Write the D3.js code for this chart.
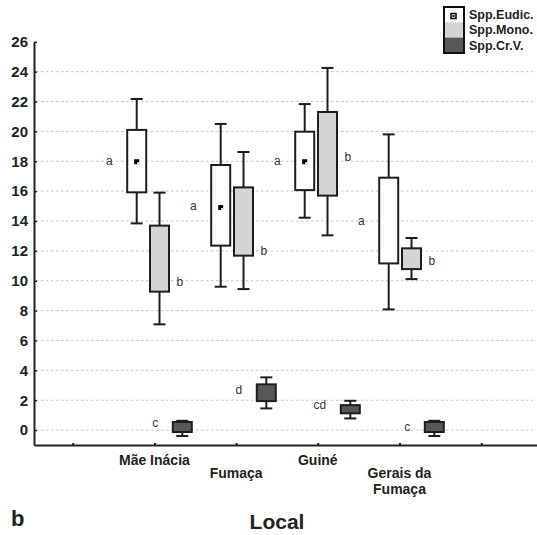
<!DOCTYPE html>
<html>
<head>
<meta charset="utf-8">
<script src="https://cdn.jsdelivr.net/npm/d3@7"></script>
<style>
  body { margin: 0; background: #fff; }
  svg { font-family: "Liberation Sans", Arial, sans-serif; }
</style>
</head>
<body>
<svg width="537" height="535"></svg>
<script>
  // data
  const locais = ['Mãe Inácia', 'Fumaça', 'Guiné', 'Gerais da Fumaça'];
  const series = ['Spp.Eudic.', 'Spp.Mono.', 'Spp.Cr.V.'];
  const fills = ['#ffffff', '#d4d4d4', '#575757'];

  const wMax = [[22.17, 20.5, 21.83, 19.8], [15.9, 18.62, 24.25, 12.86], [0.62, 3.53, 1.96, 0.62]];
  const q3   = [[20.1, 17.75, 19.98, 16.9], [13.69, 16.25, 21.3, 12.17], [0.54, 3.06, 1.67, 0.54]];
  const med  = [[17.97, 14.9, 17.97, null], [null, null, null, null], [null, null, null, null]];
  const q1   = [[15.92, 12.35, 16.07, 11.16], [9.27, 11.68, 15.7, 10.78], [-0.13, 1.94, 1.12, -0.13]];
  const wMin = [[13.84, 9.6, 14.22, 8.08], [7.08, 9.44, 13.04, 10.11], [-0.4, 1.45, 0.78, -0.4]];

  const letras = [['a', 'a', 'a', 'a'], ['b', 'b', 'b', 'b'], ['c', 'd', 'cd', 'c']];
  const letraY = [[18.0, 15.0, 18.0, 14.0], [9.93, 12.0, 18.3, 11.3], [0.47, 2.68, 1.67, 0.22]];

  const yTicks = d3.range(0, 27, 2);
  const gridTicks = d3.range(0, 25, 2);

  const svg = d3.select('svg');

  const y = d3.scaleLinear().domain([-1, 26]).range([445, 41.8]);
  const x = d3.scaleLinear().domain([-0.474, 5.683]).range([34, 537]);
  // box groups are spaced a little wider than the axis ticks in the original
  const xb = d3.scaleLinear().domain([0, 3]).range([136.7, 388.7]);
  const serieOffset = 22.8;
  const boxW = 19, capW = 12;

  // grid
  svg.append('g').selectAll('line').data(gridTicks).enter().append('line')
    .attr('x1', 36).attr('x2', 533)
    .attr('y1', d => y(d)).attr('y2', d => y(d))
    .attr('stroke', '#c4c4c4').attr('stroke-width', 1)
    .attr('stroke-dasharray', '2.5,2.5');

  // y axis
  const yAxisG = svg.append('g')
    .attr('transform', 'translate(34,0)')
    .call(d3.axisLeft(y).tickValues(yTicks).tickSize(-3).tickSizeOuter(0).tickPadding(6));
  yAxisG.select('.domain').attr('stroke', '#222').attr('stroke-width', 2);
  yAxisG.selectAll('.tick line').attr('stroke', '#222').attr('stroke-width', 1.5);
  yAxisG.selectAll('text')
    .attr('font-size', 15).attr('font-weight', 'bold').attr('fill', '#222')
    .attr('font-family', '"Liberation Sans", Arial, sans-serif');

  // x axis
  const xAxisG = svg.append('g')
    .attr('transform', 'translate(0,445)')
    .call(d3.axisBottom(x).tickValues(d3.range(0, 6)).tickSize(-2).tickSizeOuter(0).tickFormat(''));
  xAxisG.select('.domain').attr('stroke', '#222').attr('stroke-width', 2);
  xAxisG.selectAll('.tick line').attr('stroke', '#222').attr('stroke-width', 2);

  // category labels, staggered
  locais.forEach((nome, i) => {
    const linhas = nome === 'Gerais da Fumaça' ? ['Gerais da', 'Fumaça'] : [nome];
    const t = svg.append('text')
      .attr('x', x(i + 1)).attr('y', i % 2 === 0 ? 465 : 478)
      .attr('text-anchor', 'middle')
      .attr('font-size', 14).attr('font-weight', 'bold').attr('fill', '#222');
    linhas.forEach((l, j) => {
      t.append('tspan').attr('x', x(i + 1)).attr('dy', j === 0 ? 0 : 16).text(l);
    });
  });

  // boxes
  series.forEach((s, k) => {
    const g = svg.append('g');
    locais.forEach((nome, i) => {
      const cx = xb(i) + k * serieOffset;
      const cor = '#1e1e1e';
      g.append('line')
        .attr('x1', cx).attr('x2', cx)
        .attr('y1', y(wMax[k][i])).attr('y2', y(wMin[k][i]))
        .attr('stroke', cor).attr('stroke-width', 2);
      [wMax[k][i], wMin[k][i]].forEach(v => {
        g.append('line')
          .attr('x1', cx - capW / 2).attr('x2', cx + capW / 2)
          .attr('y1', y(v)).attr('y2', y(v))
          .attr('stroke', cor).attr('stroke-width', 2);
      });
      g.append('rect')
        .attr('x', cx - boxW / 2).attr('width', boxW)
        .attr('y', y(q3[k][i])).attr('height', y(q1[k][i]) - y(q3[k][i]))
        .attr('fill', fills[k]).attr('stroke', cor).attr('stroke-width', 2);
      if (med[k][i] != null) {
        g.append('rect')
          .attr('x', cx - 2.5).attr('y', y(med[k][i]) - 2.5)
          .attr('width', 5).attr('height', 5).attr('fill', '#000');
        g.append('rect')
          .attr('x', cx + 0.5).attr('y', y(med[k][i]) + 0.5)
          .attr('width', 2).attr('height', 2).attr('fill', '#fff');
      }
      g.append('text')
        .attr('x', k === 1 ? cx + 17 : cx - 24)
        .attr('y', y(letraY[k][i]))
        .attr('dy', '0.32em')
        .attr('text-anchor', k === 1 ? 'start' : 'end')
        .attr('font-size', 12).attr('fill', '#333')
        .text(letras[k][i]);
    });
  });

  // legend
  const leg = svg.append('g').attr('transform', 'translate(444,7)');
  series.forEach((s, k) => {
    leg.append('rect')
      .attr('x', 0).attr('y', k * 15.3).attr('width', 20).attr('height', 15.3)
      .attr('fill', fills[k]);
    leg.append('text')
      .attr('x', 25).attr('y', k * 15.5 + 11.5)
      .attr('font-size', 12.5).attr('font-weight', 'bold').attr('fill', '#222')
      .text(s);
  });
  leg.append('rect')
    .attr('x', 0).attr('y', 0).attr('width', 20).attr('height', 46)
    .attr('fill', 'none').attr('stroke', '#111').attr('stroke-width', 2);
  leg.append('rect')
    .attr('x', 7).attr('y', 6.5).attr('width', 5).attr('height', 5)
    .attr('fill', '#fff').attr('stroke', '#000').attr('stroke-width', 1.5);
  leg.append('rect')
    .attr('x', 8.5).attr('y', 8).attr('width', 2).attr('height', 2).attr('fill', '#000');

  // titles
  svg.append('text')
    .attr('x', 277).attr('y', 529)
    .attr('text-anchor', 'middle')
    .attr('font-size', 21).attr('font-weight', 'bold').attr('fill', '#222')
    .text('Local');
  svg.append('text')
    .attr('x', 11).attr('y', 526)
    .attr('font-size', 22).attr('font-weight', 'bold').attr('fill', '#222')
    .text('b');
</script>
</body>
</html>
